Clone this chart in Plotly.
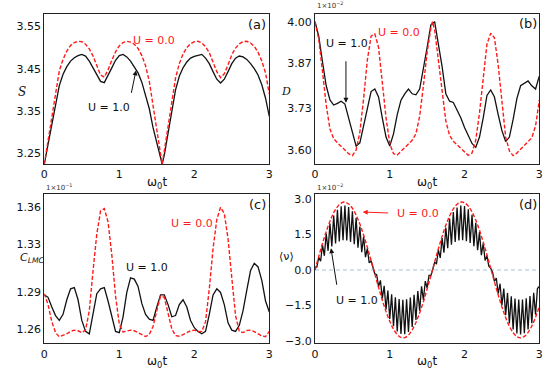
import plotly.graph_objects as go

# ---------------- data ----------------
t = [round(0.05 * i, 2) for i in range(61)]
t_ab = t[:32] + [1.571] + t[32:]
t_fine = [round(0.025 * i, 3) for i in range(121)]

S_red = [3.224, 3.28, 3.335, 3.40, 3.445, 3.472, 3.492, 3.505, 3.512, 3.515, 3.514, 3.508, 3.497, 3.480, 3.455, 3.435,
         3.430, 3.447, 3.470, 3.490, 3.504, 3.512, 3.515, 3.513, 3.508, 3.498, 3.481, 3.457, 3.42, 3.36, 3.30, 3.245,
         3.224,
         3.255, 3.31, 3.372, 3.428, 3.462, 3.485, 3.50, 3.509, 3.514, 3.515, 3.511, 3.502, 3.488, 3.466, 3.443, 3.429,
         3.438, 3.459, 3.483, 3.499, 3.509, 3.514, 3.515, 3.511, 3.503, 3.489, 3.468, 3.44, 3.39]
S_black = [3.224, 3.27, 3.318, 3.37, 3.41, 3.437, 3.455, 3.468, 3.476, 3.481, 3.484, 3.480, 3.468, 3.452, 3.437, 3.420,
           3.417, 3.433, 3.452, 3.470, 3.481, 3.484, 3.478, 3.468, 3.455, 3.44, 3.418, 3.385, 3.355, 3.31, 3.275, 3.238,
           3.224,
           3.245, 3.30, 3.355, 3.40, 3.432, 3.452, 3.466, 3.475, 3.479, 3.482, 3.484, 3.475, 3.462, 3.443, 3.425, 3.416,
           3.425, 3.443, 3.462, 3.475, 3.480, 3.478, 3.472, 3.462, 3.45, 3.435, 3.412, 3.38, 3.337]

D_red = [4.00, 3.945, 3.845, 3.74, 3.665, 3.635, 3.622, 3.612, 3.60, 3.588, 3.582, 3.60, 3.655, 3.76, 3.88, 3.955,
         3.962, 3.92, 3.81, 3.70, 3.62, 3.588, 3.584, 3.595, 3.607, 3.618, 3.63, 3.65, 3.705, 3.80, 3.905, 3.98,
         4.00,
         3.975, 3.885, 3.785, 3.69, 3.645, 3.627, 3.616, 3.605, 3.593, 3.583, 3.59, 3.63, 3.715, 3.83, 3.93, 3.964,
         3.95, 3.865, 3.745, 3.64, 3.597, 3.582, 3.59, 3.602, 3.613, 3.624, 3.638, 3.675, 3.755]
D_black = [4.00, 3.955, 3.875, 3.80, 3.756, 3.74, 3.745, 3.752, 3.743, 3.70, 3.655, 3.612, 3.622, 3.675, 3.73, 3.782,
           3.79, 3.765, 3.70, 3.64, 3.612, 3.65, 3.71, 3.755, 3.775, 3.79, 3.775, 3.772, 3.79, 3.85, 3.92, 3.99,
           3.995,
           4.00, 3.93, 3.86, 3.775, 3.752, 3.748, 3.725, 3.70, 3.67, 3.645, 3.62, 3.608, 3.64, 3.70, 3.77, 3.787,
           3.765, 3.71, 3.66, 3.626, 3.64, 3.695, 3.76, 3.80, 3.808, 3.815, 3.80, 3.79, 3.83]

C_red = [1.289, 1.280, 1.266, 1.257, 1.2535, 1.2545, 1.256, 1.258, 1.259, 1.2585, 1.257, 1.259, 1.275, 1.308, 1.338, 1.357,
         1.359, 1.348, 1.321, 1.287, 1.264, 1.2575, 1.258, 1.259, 1.2585, 1.257, 1.255, 1.2538, 1.2555, 1.262, 1.275, 1.287,
         1.286, 1.272, 1.260, 1.2545, 1.254, 1.2553, 1.257, 1.2585, 1.259, 1.2577, 1.258, 1.266, 1.293, 1.326, 1.350, 1.360,
         1.355, 1.334, 1.302, 1.271, 1.258, 1.257, 1.2587, 1.259, 1.2578, 1.2558, 1.2543, 1.2537, 1.258]
C_black = [1.288, 1.286, 1.278, 1.271, 1.267, 1.272, 1.284, 1.293, 1.294, 1.284, 1.267, 1.258, 1.256, 1.274, 1.289, 1.293,
           1.294, 1.283, 1.27, 1.258, 1.257, 1.27, 1.29, 1.302, 1.301, 1.295, 1.281, 1.272, 1.268, 1.267, 1.278, 1.288,
           1.288, 1.28, 1.27, 1.271, 1.28, 1.284, 1.278, 1.267, 1.261, 1.258, 1.256, 1.258, 1.272, 1.288, 1.293, 1.29,
           1.28, 1.265, 1.259, 1.258, 1.263, 1.275, 1.292, 1.308, 1.314, 1.311, 1.30, 1.283, 1.274]

nu_red = [0, 0.57, 1.12, 1.62, 2.06, 2.42, 2.67, 2.83, 2.87, 2.79,
          2.61, 2.32, 1.94, 1.48, 0.96, 0.40, -0.17, -0.73, -1.27, -1.76,
          -2.17, -2.50, -2.73, -2.85, -2.86, -2.75, -2.53, -2.22, -1.81, -1.34,
          -0.80, -0.24, 0.33, 0.89, 1.42, 1.89, 2.28, 2.58, 2.78, 2.87,
          2.84, 2.70, 2.45, 2.11, 1.68, 1.18, 0.64, 0.07, -0.50, -1.05,
          -1.56, -2.01, -2.38, -2.65, -2.82, -2.87, -2.81, -2.64, -2.37, -2.00,
          -1.54]
nu_black = [0.10, 0.13, 0.54, 0.37, 1.06, 0.60, 1.54, 0.81, 1.96, 0.99,
            2.30, 1.12, 2.54, 1.21, 2.69, 1.26, 2.73, 1.25, 2.66, 1.19,
            2.48, 1.09, 2.21, 0.94, 1.84, 0.75, 1.41, 0.54, 0.91, 0.30,
            0.39, 0.05, -0.16, -0.20, -0.70, -0.44, -1.21, -0.67, -1.67, -0.87,
            -2.07, -1.03, -2.38, -1.15, -2.60, -1.23, -2.71, -1.26, -2.72, -1.24,
            -2.62, -1.17, -2.41, -1.05, -2.11, -0.89, -1.72, -0.69, -1.27, -0.47,
            -0.76, -0.23, -0.23, 0.02, 0.32, 0.27, 0.85, 0.51, 1.35, 0.73,
            1.79, 0.92, 2.17, 1.07, 2.45, 1.18, 2.64, 1.25, 2.73, 1.26,
            2.70, 1.22, 2.57, 1.14, 2.33, 1.01, 2.00, 0.84, 1.60, 0.63,
            1.13, 0.40, 0.61, 0.16, 0.07, -0.09, -0.48, -0.34, -1.00, -0.58,
            -1.49, -0.79, -1.91, -0.97, -2.26, -1.11, -2.52, -1.21, -2.68, -1.25,
            -2.73, -1.25, -2.67, -1.20, -2.51, -1.10, -2.25, -0.96, -1.89, -0.78,
            -0.70]

x_ticks = [0, 1, 2, 3]
S_ticks = [3.25, 3.35, 3.45, 3.55]
D_ticks = [3.60, 3.73, 3.87, 4.00]
C_ticks = [1.26, 1.29, 1.33, 1.36]
nu_ticks = [-3.0, -1.5, 0.0, 1.5, 3.0]
nu_ticklabels = ["\u22123.0", "\u22121.5", "0.0", "1.5", "3.0"]

# ---------------- figure ----------------
RED = "#ff1a1a"
BLK = "#111111"
FONT = "DejaVu Sans"
dash = "4px,2px"

fig = go.Figure()
panels = [
    ("x", "y", t_ab, S_red, t_ab, S_black),
    ("x2", "y2", t_ab, D_red, t_ab, D_black),
    ("x3", "y3", t, C_red, t, C_black),
    ("x4", "y4", t, nu_red, t_fine, nu_black),
]
fig.add_trace(go.Scatter(x=[0, 3], y=[0, 0], xaxis="x4", yaxis="y4", mode="lines",
                         line=dict(color="#a9bfd6", width=1, dash="4px,3px"), hoverinfo="skip"))
for xa, ya, xr, yr, xb, yb in panels:
    fig.add_trace(go.Scatter(x=xb, y=yb, xaxis=xa, yaxis=ya, mode="lines",
                             line=dict(color=BLK, width=1.3)))
    fig.add_trace(go.Scatter(x=xr, y=yr, xaxis=xa, yaxis=ya, mode="lines",
                             line=dict(color=RED, width=1.4, dash=dash,
                                       shape="spline" if xa == "x4" else "linear")))

W, H = 550, 371
def xd(l, r):
    return [l / W, r / W]
def yd(top, bot):
    return [1 - bot / H, 1 - top / H]

axcommon = dict(showline=True, mirror=True, linecolor="#222", linewidth=1.3, showgrid=False,
                zeroline=False, ticks="", automargin=False,
                tickfont=dict(family=FONT, size=11, color="#111"))

fig.update_layout(
    width=W, height=H, margin=dict(l=0, r=0, t=0, b=0, autoexpand=False),
    paper_bgcolor="white", plot_bgcolor="white", showlegend=False,
    font=dict(family=FONT, color="#111"),
    xaxis=dict(domain=xd(44.3, 269.3), range=[0, 3], tickvals=x_ticks, anchor="y", **axcommon),
    yaxis=dict(domain=yd(14.3, 164), range=[3.224, 3.579], tickvals=S_ticks,
               ticktext=["%.2f" % v for v in S_ticks], anchor="x", **axcommon),
    xaxis2=dict(domain=xd(315, 539.3), range=[0, 3], tickvals=x_ticks, anchor="y2", **axcommon),
    yaxis2=dict(domain=yd(14.3, 164), range=[3.556, 4.023], tickvals=D_ticks,
                ticktext=["%.2f" % v for v in D_ticks], anchor="x2", **axcommon),
    xaxis3=dict(domain=xd(44.3, 269.3), range=[0, 3], tickvals=x_ticks, anchor="y3", **axcommon),
    yaxis3=dict(domain=yd(194.3, 343.3), range=[1.2482, 1.3707], tickvals=C_ticks,
                ticktext=["%.2f" % v for v in C_ticks], anchor="x3", **axcommon),
    xaxis4=dict(domain=xd(315, 539.3), range=[0, 3], tickvals=x_ticks, anchor="y4", **axcommon),
    yaxis4=dict(domain=yd(194.3, 343.3), range=[-3.1, 3.2], tickvals=nu_ticks,
                ticktext=nu_ticklabels, anchor="x4", **axcommon),
)

ann = []
def txt(x, y, s, color=BLK, size=11, xref="x", yref="y"):
    ann.append(dict(x=x, y=y, text=s, xref=xref, yref=yref, showarrow=False,
                    font=dict(family=FONT, size=size, color=color), xanchor="center", yanchor="middle"))
def arrow(x, y, ax, ay, color, xref, yref):
    ann.append(dict(x=x, y=y, ax=ax, ay=ay, xref=xref, yref=yref, axref="pixel", ayref="pixel",
                    text="", showarrow=True, arrowhead=2, arrowsize=1, arrowwidth=1, arrowcolor=color))

txt(2.836, 3.556, "(a)", size=13)
txt(2.848, 3.994, "(b)", size=13, xref="x2", yref="y2")
txt(2.849, 1.362, "(c)", size=13, xref="x3", yref="y3")
txt(2.848, 2.75, "(d)", size=13, xref="x4", yref="y4")
txt(1.463, 3.517, "U = 0.0", RED)
txt(0.864, 3.359, "U = 1.0")
arrow(1.223, 3.446, -5, 24, BLK, "x", "y")
txt(1.123, 3.966, "U = 0.0", RED, xref="x2", yref="y2")
txt(0.428, 3.933, "U = 1.0", xref="x2", yref="y2")
arrow(0.414, 3.747, 0, -43, BLK, "x2", "y2")
txt(1.969, 1.3469, "U = 0.0", RED, xref="x3", yref="y3")
txt(1.369, 1.3107, "U = 1.0", xref="x3", yref="y3")
txt(1.377, 2.40, "U = 0.0", RED, xref="x4", yref="y4")
arrow(0.638, 2.45, 27, 1, RED, "x4", "y4")
txt(0.561, -1.30, "U = 1.0", xref="x4", yref="y4")
arrow(0.214, 0.917, 6, 38, BLK, "x4", "y4")

for xc, yc in [(157 / W, 1 - 182.5 / H), (427 / W, 1 - 182.5 / H), (157 / W, 1 - 361.5 / H), (427 / W, 1 - 361.5 / H)]:
    txt(xc, yc, "\u03c9<sub>0</sub>t", size=12, xref="paper", yref="paper")
ann.append(dict(x=16 / W, y=1 - 83 / H, xref="paper", yref="paper", showarrow=False,
                text="<i>S</i>", font=dict(family="DejaVu Serif", size=12, color=BLK)))
ann.append(dict(x=286 / W, y=1 - 83 / H, xref="paper", yref="paper", showarrow=False,
                text="<i>D</i>", font=dict(family="DejaVu Serif", size=11, color=BLK)))
ann.append(dict(x=18 / W, y=1 - 267 / H, xref="paper", yref="paper", showarrow=False,
                text="<i>C<sub>LMC</sub></i>", font=dict(family=FONT, size=11, color=BLK)))
ann.append(dict(x=286 / W, y=1 - 265 / H, xref="paper", yref="paper", showarrow=False,
                text="\u27e8\u03bd\u27e9", font=dict(family=FONT, size=11, color=BLK)))
for xl, yl, s in [(315, 5, "1\u00d710<sup>\u22122</sup>"), (44.3, 187, "1\u00d710<sup>\u22121</sup>"),
                  (315, 187, "1\u00d710<sup>\u22122</sup>")]:
    ann.append(dict(x=xl / W, y=1 - yl / H, xref="paper", yref="paper", showarrow=False, xanchor="left",
                    yanchor="middle", text=s, font=dict(family=FONT, size=7, color="#333")))

fig.update_layout(annotations=ann)
fig.write_html("out.html", config={"displayModeBar": False},
               post_script="document.body.style.margin='0';document.body.style.padding='0';")
